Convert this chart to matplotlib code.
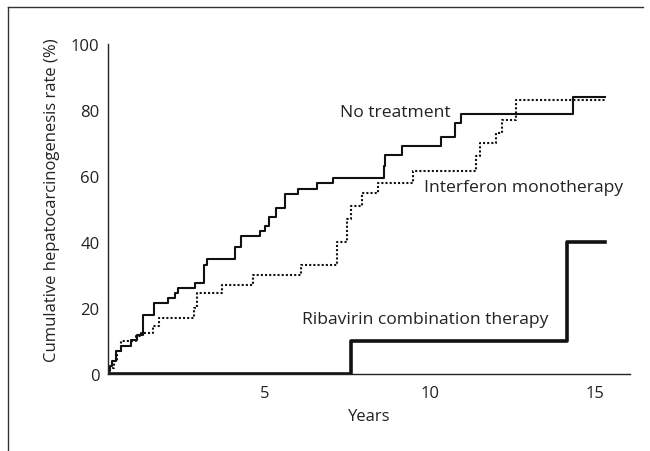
import matplotlib
matplotlib.use("Agg")
import matplotlib.pyplot as plt
from matplotlib.lines import Line2D

plt.rcParams['font.family'] = ['Open Sans', 'DejaVu Sans']

# Kaplan-Meier style data (years, cumulative %)
nt_t = [0.25, 0.3, 0.375, 0.5, 0.625, 0.94, 1.125, 1.31, 1.65, 2.06, 2.28, 2.375, 2.875,
        3.15, 3.25, 4.09, 4.275, 4.85, 5.0, 5.125, 5.34, 5.6, 6.0, 6.59, 7.06, 8.6, 8.65,
        9.15, 10.34, 10.75, 10.94, 14.35, 15.3]
nt_v = [1, 2.5, 4, 7, 8.5, 10.5, 12, 18, 21.5, 23, 24.5, 26, 27.5, 33, 35, 38.5, 42, 43.5,
        45, 47.5, 50.5, 54.5, 56, 58, 59.5, 63, 66.5, 69, 72, 76, 78.8, 84, 84]

if_t = [0.25, 0.44, 0.525, 0.625, 1.1, 1.25, 1.6, 1.8, 2.84, 2.94, 3.71, 4.65, 6.09, 7.19,
        7.5, 7.6, 7.94, 8.44, 9.5, 11.41, 11.53, 12.0, 12.19, 12.6, 15.3]
if_v = [2, 4, 7, 10, 11.5, 12.5, 14.7, 17, 20, 24.5, 27, 30, 33, 40, 47, 51, 55, 58, 61.5,
        66, 70, 73, 77, 83, 83]

rb_t = [0.25, 7.6, 14.15, 15.3]
rb_v = [0, 10, 40, 40]

x_ticks = [5, 10, 15]
y_ticks = [0, 20, 40, 60, 80, 100]

labels = ["No treatment", "Interferon monotherapy", "Ribavirin combination therapy"]

fig = plt.figure(figsize=(6.5, 4.52), dpi=100)
ax = fig.add_axes([0.166, 0.170, 0.803, 0.730])

ax.step(nt_t, nt_v, where='post', color='#111111', lw=1.5)
ax.step(if_t, if_v, where='post', color='#111111', lw=1.5, linestyle=(0, (1, 1)))
ax.step(rb_t, rb_v, where='post', color='#111111', lw=2.6)

ax.set_xlim(0.24, 16.06)
ax.set_ylim(0, 100)
ax.set_xticks(x_ticks)
ax.set_yticks(y_ticks)
ax.tick_params(length=0, labelsize=12, colors='#222222')
ax.tick_params(axis='x', pad=8)
ax.tick_params(axis='y', pad=6)
for s in ['top', 'right']:
    ax.spines[s].set_visible(False)
for s in ['left', 'bottom']:
    ax.spines[s].set_linewidth(1.0)
    ax.spines[s].set_color('#222222')

ax.set_xlabel("Years", fontsize=12, color='#222222', labelpad=5)
ax.set_ylabel("Cumulative hepatocarcinogenesis rate (%)", fontsize=12, color='#222222')
ax.yaxis.set_label_coords(-0.092, 0.53)

ax.text(7.28, 79.5, labels[0], fontsize=12.6, ha='left', va='center', color='#222222')
ax.text(9.81, 56.8, labels[1], fontsize=12.6, ha='left', va='center', color='#222222')
ax.text(6.12, 16.8, labels[2], fontsize=12.6, ha='left', va='center', color='#222222')

# outer frame (left and top edges)
fig.add_artist(Line2D([8/650, 8/650], [0, 1 - 8/452], transform=fig.transFigure, color='#333333', lw=1.0))
fig.add_artist(Line2D([8/650, 643/650], [1 - 8/452, 1 - 8/452], transform=fig.transFigure, color='#333333', lw=1.0))

fig.savefig("out.png", dpi=100)
